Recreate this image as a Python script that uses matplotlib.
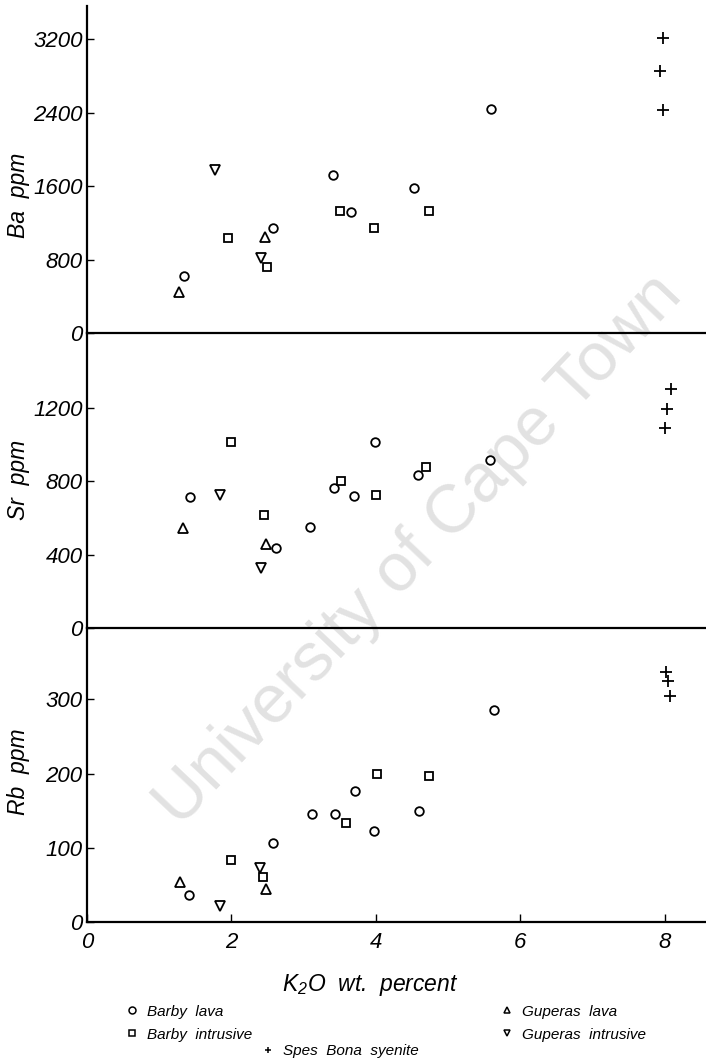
import matplotlib
matplotlib.use("Agg")
import matplotlib.pyplot as plt
from matplotlib.lines import Line2D

plt.rcParams["font.family"] = ["Liberation Sans", "DejaVu Sans"]
plt.rcParams["font.style"] = "italic"
plt.rcParams["mathtext.fontset"] = "custom"
plt.rcParams["mathtext.it"] = "Liberation Sans:italic"
plt.rcParams["mathtext.rm"] = "Liberation Sans:italic"

# --- Ba panel ---
ba_barby_lava_k2o = [1.35, 2.57, 3.41, 3.66, 4.53, 5.59]
ba_barby_lava = [625, 1147, 1718, 1318, 1583, 2436]
ba_barby_intr_k2o = [1.95, 2.49, 3.51, 3.97, 4.73]
ba_barby_intr = [1039, 719, 1325, 1147, 1325]
ba_gup_lava_k2o = [1.28, 2.47]
ba_gup_lava = [443, 1046]
ba_gup_intr_k2o = [1.77, 2.41]
ba_gup_intr = [1772, 817]
ba_spes_k2o = [7.98, 7.94, 7.97]
ba_spes = [3206, 2850, 2425]

# --- Sr panel ---
sr_barby_lava_k2o = [1.43, 2.62, 3.09, 3.42, 3.70, 3.99, 4.58, 5.58]
sr_barby_lava = [713, 438, 549, 762, 718, 1014, 836, 918]
sr_barby_intr_k2o = [2.00, 2.45, 3.52, 4.00, 4.69]
sr_barby_intr = [1014, 613, 802, 722, 878]
sr_gup_lava_k2o = [1.33, 2.48]
sr_gup_lava = [544, 460]
sr_gup_intr_k2o = [1.84, 2.41]
sr_gup_intr = [725, 329]
sr_spes_k2o = [8.08, 8.03, 8.00]
sr_spes = [1302, 1191, 1087]

# --- Rb panel ---
rb_barby_lava_k2o = [1.41, 2.57, 3.11, 3.44, 3.71, 3.97, 4.60, 5.63]
rb_barby_lava = [37, 106, 145, 145, 177, 123, 149, 286]
rb_barby_intr_k2o = [1.99, 2.44, 3.59, 4.02, 4.73]
rb_barby_intr = [83, 61, 134, 200, 197]
rb_gup_lava_k2o = [1.29, 2.48]
rb_gup_lava = [54, 45]
rb_gup_intr_k2o = [1.85, 2.39]
rb_gup_intr = [21, 73]
rb_spes_k2o = [8.01, 8.05, 8.07]
rb_spes = [337, 325, 305]

GROUPS = ["Barby  lava", "Barby  intrusive", "Guperas  lava", "Guperas  intrusive", "Spes  Bona  syenite"]
MARKERS = {"Barby  lava": "o", "Barby  intrusive": "s", "Guperas  lava": "^",
           "Guperas  intrusive": "v", "Spes  Bona  syenite": "+"}
SIZES = {"o": 6.2, "s": 5.8, "^": 6.8, "v": 6.8, "+": 8.5}

panels = [
    ("Ba  ppm", 3560, [0, 800, 1600, 2400, 3200],
     [(ba_barby_lava_k2o, ba_barby_lava), (ba_barby_intr_k2o, ba_barby_intr),
      (ba_gup_lava_k2o, ba_gup_lava), (ba_gup_intr_k2o, ba_gup_intr), (ba_spes_k2o, ba_spes)]),
    ("Sr  ppm", 1607, [0, 400, 800, 1200],
     [(sr_barby_lava_k2o, sr_barby_lava), (sr_barby_intr_k2o, sr_barby_intr),
      (sr_gup_lava_k2o, sr_gup_lava), (sr_gup_intr_k2o, sr_gup_intr), (sr_spes_k2o, sr_spes)]),
    ("Rb  ppm", 396, [0, 100, 200, 300],
     [(rb_barby_lava_k2o, rb_barby_lava), (rb_barby_intr_k2o, rb_barby_intr),
      (rb_gup_lava_k2o, rb_gup_lava), (rb_gup_intr_k2o, rb_gup_intr), (rb_spes_k2o, rb_spes)]),
]

# axes boxes in figure fractions: [left, bottom, width, height]
boxes = [
    [0.123, 0.6867, 0.877, 0.3077],
    [0.123, 0.4092, 0.877, 0.2775],
    [0.123, 0.1326, 0.877, 0.2766],
]
label_y = [0.8166, 0.5484, 0.2738]

fig = plt.figure(figsize=(7.06, 10.63), dpi=100)
# scanned-page watermark
fig.text(0.593, 0.4826, "University of Cape Town", rotation=46.5, fontsize=49,
         color="#e2e2e2", ha="center", va="center", style="normal",
         rotation_mode="anchor", zorder=-5)

for i, (ylab, ymax, yticks, series) in enumerate(panels):
    ax = fig.add_axes(boxes[i])
    ax.set_facecolor("none")
    for name, (xs, ys) in zip(GROUPS, series):
        m = MARKERS[name]
        ax.plot(xs, ys, linestyle="none", marker=m, markersize=SIZES[m],
                markerfacecolor="none", markeredgecolor="black",
                markeredgewidth=1.3, clip_on=False)
    ax.set_xlim(0, 8.57)
    ax.set_ylim(0, ymax)
    for side in ("top", "right"):
        ax.spines[side].set_visible(False)
    for side in ("left", "bottom"):
        ax.spines[side].set_linewidth(1.6)
    ax.set_yticks(yticks)
    ax.set_yticklabels([str(t) for t in yticks])
    ax.tick_params(axis="y", direction="in", length=5, width=1, pad=3, labelsize=16)
    if i == 2:
        ax.set_xticks([0, 2, 4, 6, 8])
        ax.tick_params(axis="x", direction="in", length=6, width=1, pad=7, labelsize=16)
    else:
        ax.set_xticks([])
    fig.text(0.0255, label_y[i], ylab, rotation=90, ha="center", va="center", fontsize=16.5)

fig.text(0.524, 0.0734, r"K$_2$O  wt.  percent", ha="center", va="center", fontsize=16.5)

# legend: two columns of two, one centred row below
def handle(name):
    m = MARKERS[name]
    return Line2D([], [], linestyle="none", marker=m, markersize=5,
                  markerfacecolor="none", markeredgecolor="black", markeredgewidth=1.1)

leg_kw = dict(frameon=False, fontsize=11, handlelength=0.8, handletextpad=0.6,
              labelspacing=0.6, borderpad=0, borderaxespad=0)
fig.legend([handle(g) for g in GROUPS[:2]], GROUPS[:2], loc="upper left",
           bbox_to_anchor=(0.178, 0.055), **leg_kw)
fig.legend([handle(g) for g in GROUPS[2:4]], GROUPS[2:4], loc="upper left",
           bbox_to_anchor=(0.709, 0.055), **leg_kw)
fig.legend([handle(GROUPS[4])], GROUPS[4:], loc="upper left",
           bbox_to_anchor=(0.371, 0.0175), **leg_kw)

fig.savefig("out.png", dpi=100)
